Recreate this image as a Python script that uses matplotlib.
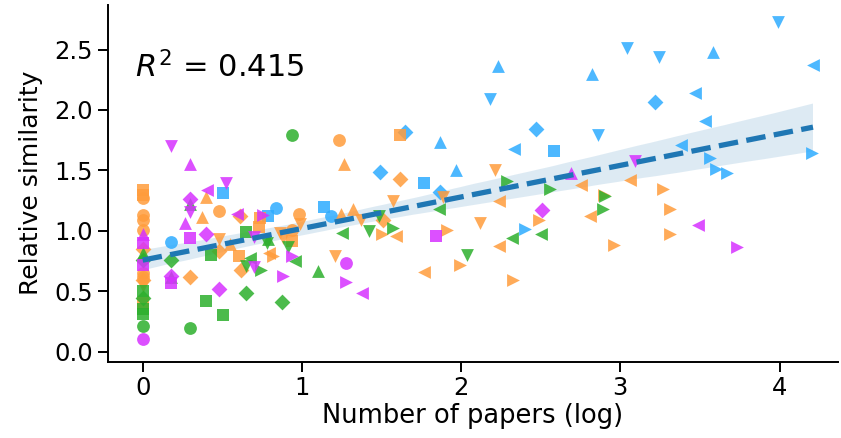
import numpy as np
import matplotlib.pyplot as plt
import seaborn as sns

# field colours
colors = {"B": "#2eacff", "O": "#ff9c3c", "G": "#2daf2d", "M": "#d631ff"}

# Number of papers (log), relative similarity, colour group, marker
blue_x = [3.99, 3.245, 3.58, 4.21, 3.22, 3.47, 3.53, 3.38, 3.56, 3.60, 3.67, 4.205,
          2.23, 2.18, 3.04, 2.82, 2.47, 2.86, 2.335, 2.585, 2.40, 1.65, 1.87, 1.49,
          1.97, 1.77, 1.87, 1.14, 1.18, 0.505, 0.79, 0.84, 0.176]
blue_y = [2.73, 2.44, 2.48, 2.37, 2.07, 2.14, 1.91, 1.71, 1.60, 1.51, 1.48, 1.645,
          2.36, 2.09, 2.51, 2.30, 1.845, 1.79, 1.68, 1.66, 1.015, 1.82, 1.735, 1.49,
          1.50, 1.395, 1.32, 1.20, 1.12, 1.31, 1.12, 1.19, 0.905]
blue_m = ["v", "v", "^", "<", "D", "<", "<", "<", ">", ">", ">", ">",
          "^", "v", "v", "^", "D", "v", "<", "s", ">", "D", "^", "D",
          "^", "s", "D", "s", "o", "s", "s", "o", "o"]

orange_x = [2.21, 2.755, 3.06, 2.895, 2.81, 2.96, 2.49, 2.235, 2.12, 2.325, 2.24,
            3.27, 3.31, 3.31, 1.235, 1.616, 1.266, 1.616, 1.885, 1.575, 0.98, 0.99,
            1.245, 1.32, 1.37, 1.51, 1.50, 1.59, 1.91, 1.21, 1.77, 1.99, 0.40, 0.37,
            0.48, 0.61, 0.736, 0.48, 0.547, 0.73, 0.86, 0.935, 0.935, 0.88, 0.48,
            0.606, 0.62, 0.795, 0.82, 0.30,
            0, 0, 0, 0, 0, 0, 0, 0, 0, 0, 0, 0]
orange_y = [1.50, 1.38, 1.42, 1.30, 1.12, 0.885, 1.09, 0.877, 1.065, 0.596, 1.244,
            1.35, 1.18, 0.977, 1.755, 1.79, 1.55, 1.43, 1.28, 1.244, 1.14, 1.057,
            1.14, 1.18, 1.09, 1.09, 0.97, 0.96, 1.01, 0.79, 0.656, 0.72, 1.28, 1.115,
            1.167, 1.12, 1.105, 0.93, 0.894, 1.03, 0.98, 1.01, 0.913, 0.94, 0.83,
            0.79, 0.68, 0.816, 0.795, 0.615,
            1.34, 1.30, 1.27, 1.13, 1.09, 1.01, 0.85, 0.65, 0.62, 0.59, 0.54, 0.40]
orange_m = ["v", "<", "<", ">", "<", ">", ">", "<", "v", ">", "<",
            ">", ">", ">", "o", "s", "^", "D", "v", "v", "o", "v",
            "^", "^", "v", "D", ">", "<", ">", "v", "<", ">", "^", "^",
            "o", "D", "s", "v", "^", "s", "v", "o", "s", "v", "D",
            "s", "D", "<", ">", "D",
            "s", "s", "o", "o", "o", "o", "D", "o", "o", "D", "v", "s"]

green_x = [2.29, 2.56, 2.905, 2.89, 2.32, 2.50, 2.035, 0.935, 1.86, 1.485, 1.25,
           1.42, 1.57, 1.10, 0.30, 0.652, 0.778, 0.91, 0.176, 0.43, 0.673, 0.652,
           0.74, 0.956, 0.176, 0.652, 0.872, 0.40, 0.505, 0.30, 0.79,
           0, 0, 0, 0, 0, 0, 0]
green_y = [1.415, 1.35, 1.285, 1.18, 0.94, 0.97, 0.80, 1.79, 1.18, 1.12, 0.98,
           0.995, 1.02, 0.665, 1.22, 0.988, 0.90, 0.87, 0.76, 0.80, 0.775, 0.706,
           0.673, 0.747, 0.62, 0.49, 0.41, 0.42, 0.30, 0.196, 0.93,
           0.82, 0.76, 0.50, 0.444, 0.35, 0.31, 0.21]
green_m = [">", ">", ">", ">", "<", "<", "v", "o", "<", "v", "<",
           "v", ">", "^", "^", "s", "v", "v", "D", "s", "<", "v",
           ">", "<", "^", "D", "D", "s", "s", "o", "^",
           "^", "D", "s", "D", "s", "s", "o"]

magenta_x = [2.69, 3.095, 2.51, 3.485, 3.73, 1.845, 1.28, 1.277, 1.38, 0.176, 0.30,
             0.526, 0.405, 0.30, 0.30, 0.264, 0.59, 0.757, 0.30, 0.40, 0.70, 0.70,
             0.935, 0.88, 0.176, 0.176, 0.48,
             0, 0, 0, 0]
magenta_y = [1.48, 1.58, 1.17, 1.045, 0.867, 0.955, 0.734, 0.574, 0.486, 1.705, 1.55,
             1.40, 1.34, 1.266, 1.16, 1.065, 1.14, 1.134, 0.94, 0.97, 0.95, 0.70,
             0.79, 0.63, 0.63, 0.57, 0.52,
             0.977, 0.90, 0.72, 0.108]
magenta_m = ["^", "v", "D", "<", ">", "s", "o", ">", "<", "v", "^",
             "v", "<", "D", "v", "^", "<", ">", "s", "D", "v", "v",
             ">", ">", "D", "s", "D",
             "^", "s", "s", "o"]

groups = [("B", blue_x, blue_y, blue_m), ("O", orange_x, orange_y, orange_m),
          ("G", green_x, green_y, green_m), ("M", magenta_x, magenta_y, magenta_m)]

all_x = np.array(blue_x + orange_x + green_x + magenta_x)
all_y = np.array(blue_y + orange_y + green_y + magenta_y)

fig = plt.figure(figsize=(8.41, 4.38), dpi=100)
ax = fig.add_axes([0.128, 0.174, 0.869, 0.815])

sns.regplot(x=all_x, y=all_y, ax=ax, scatter=False, color="#1f77b4", seed=0,
            line_kws={"ls": "--", "lw": 3.8, "zorder": 4})

for key, xs, ys, ms in groups:
    for m in ["o", "s", "D", "^", "v", "<", ">"]:
        idx = [i for i, mm in enumerate(ms) if mm == m]
        if not idx:
            continue
        size = 65 if m in ("s", "D") else 85
        ax.scatter([xs[i] for i in idx], [ys[i] for i in idx], marker=m, s=size,
                   color=colors[key], alpha=0.85, linewidths=0, zorder=3)

ax.text(0.037, 0.825, r"$R^2$ = 0.415", transform=ax.transAxes, fontsize=22,
        va="center", ha="left")

ax.set_xlim(-0.22, 4.37)
ax.set_ylim(-0.083, 2.87)
ax.set_xticks([0, 1, 2, 3, 4])
ax.set_yticks([0.0, 0.5, 1.0, 1.5, 2.0, 2.5])
ax.set_xlabel("Number of papers (log)", fontsize=18.5, labelpad=2)
ax.set_ylabel("Relative similarity", fontsize=18, labelpad=8)
ax.tick_params(labelsize=17.5, length=7, width=1.4, pad=3.5)
for s in ["left", "bottom"]:
    ax.spines[s].set_linewidth(1.4)
sns.despine(ax=ax)

plt.savefig("out.png")
